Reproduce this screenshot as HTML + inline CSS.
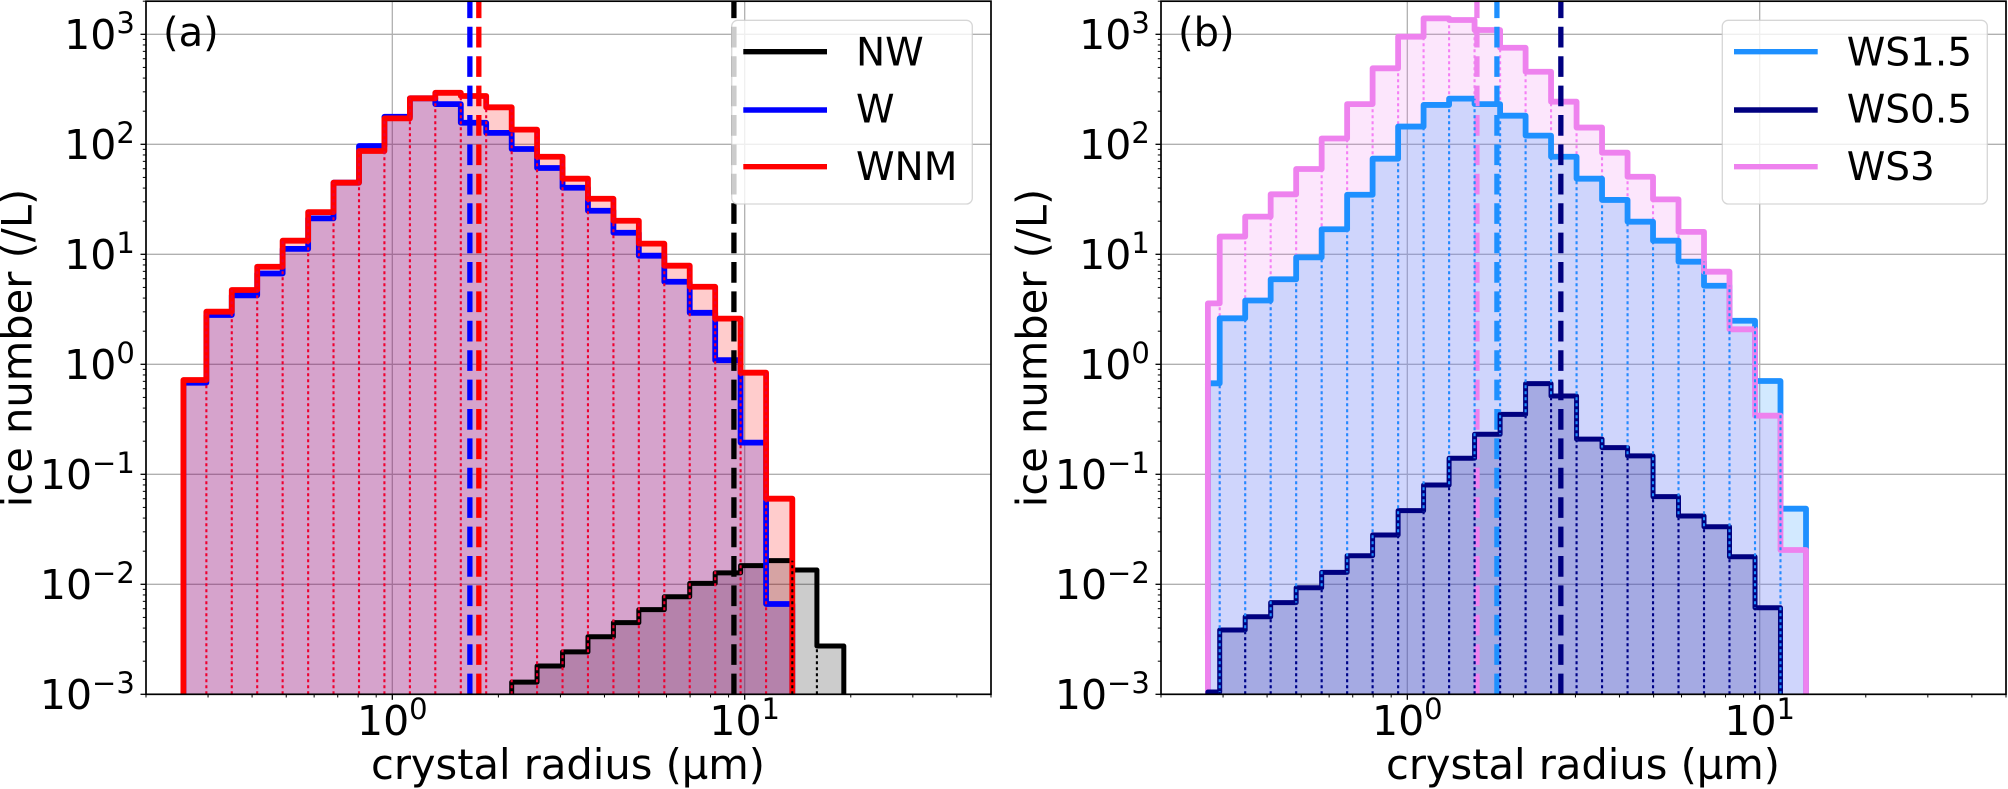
<!DOCTYPE html>
<html lang="en">
<head>
<meta charset="utf-8">
<title>Ice crystal radius histograms</title>
<style>
html,body{margin:0;padding:0;background:#fff;width:2008px;height:789px;overflow:hidden}
svg{display:block;font-family:"DejaVu Sans","Liberation Sans",sans-serif;fill:#000}
</style>
</head>
<body>
<svg id="chart" xmlns="http://www.w3.org/2000/svg" width="2008" height="789" viewBox="0 0 2008 789">
  <defs>
    <clipPath id="clip-a"><rect x="146" y="1.2" width="845" height="693.1"/></clipPath>
    <clipPath id="clip-b"><rect x="1161" y="1.2" width="845" height="693.1"/></clipPath>
  </defs>
  <g id="panel-a"></g>
  <g id="panel-b"></g>

  <text x="163" y="46" font-size="40">(a)</text>
  <text x="1178" y="46" font-size="40">(b)</text>

  <text x="568" y="779" font-size="41.6" text-anchor="middle">crystal radius (µm)</text>
  <text x="1583" y="779" font-size="41.6" text-anchor="middle">crystal radius (µm)</text>
  <text transform="translate(31.7 348) rotate(-90)" font-size="41.6" text-anchor="middle">ice number (/L)</text>
  <text transform="translate(1046.7 348) rotate(-90)" font-size="41.6" text-anchor="middle">ice number (/L)</text>

  <g>
    <rect x="731.7" y="20.3" width="240.6" height="183.7" rx="6" fill="#fff" fill-opacity="0.8" stroke="#ccc" stroke-opacity="0.8" stroke-width="1.3"/>
    <line x1="743.3" x2="827" y1="51.7" y2="51.7" stroke="#000" stroke-width="5.4"/>
    <text x="856" y="65.7" font-size="39">NW</text>
    <line x1="743.3" x2="827" y1="110" y2="110" stroke="#0000ff" stroke-width="5.4"/>
    <text x="856" y="122.7" font-size="39">W</text>
    <line x1="743.3" x2="827" y1="166.7" y2="166.7" stroke="#ff0000" stroke-width="5.4"/>
    <text x="856" y="180" font-size="39">WNM</text>
  </g>
  <g>
    <rect x="1722.3" y="20.3" width="265" height="183.7" rx="6" fill="#fff" fill-opacity="0.8" stroke="#ccc" stroke-opacity="0.8" stroke-width="1.3"/>
    <line x1="1734" x2="1817.7" y1="51.7" y2="51.7" stroke="#1e90ff" stroke-width="5.4"/>
    <text x="1846.7" y="65.7" font-size="39">WS1.5</text>
    <line x1="1734" x2="1817.7" y1="110" y2="110" stroke="#000080" stroke-width="5.4"/>
    <text x="1846.7" y="122.7" font-size="39">WS0.5</text>
    <line x1="1734" x2="1817.7" y1="166.7" y2="166.7" stroke="#ee82ee" stroke-width="5.4"/>
    <text x="1846.7" y="180" font-size="39">WS3</text>
  </g>
</svg>
<script>
/* ---- data ---- */
const edgesA = [0.2554,0.2967,0.3503,0.4136,0.4884,0.5770,0.6810,0.8045,0.9497,1.1218,1.3243,1.5646,1.8467,2.1816,2.5751,3.0415,3.5910,4.2414,5.0070,5.9143,6.9823,8.2469,9.7364,11.50,13.65,16.03,19.11];
const edgesB = [0.2717,0.2935,0.3467,0.4095,0.4837,0.5714,0.6749,0.7971,0.9417,1.1122,1.3140,1.5519,1.8337,2.1660,2.5580,3.0220,3.5695,4.2170,4.9810,5.8830,6.9500,8.2090,9.6990,11.455,13.535];

const nwFirstBin = 13;
const nwValues = [0.00129,0.00181,0.00243,0.00334,0.00448,0.00588,0.00771,0.0102,0.0127,0.0148,0.0164,0.0135,0.00275];
const wValues = [0.680,2.81,4.24,6.69,11.2,21.2,44.8,96.5,178,262,232,157,127,90.6,60.9,40.3,24.9,15.7,9.71,5.63,2.94,1.09,0.194,0.00662];
const wnmValues = [0.720,3.01,4.74,7.71,13.3,24.2,44.8,86.9,172,262,294,275,217,136,77.1,48.7,32.0,20.2,12.5,7.88,5.07,2.60,0.839,0.060];

const ws3Values = [3.58,14.5,22.0,35.1,59.6,113,232,491,951,1397,1349,1094,755,457,244,142,83.9,50.7,31.6,16.0,6.95,2.08,0.341,0.0205];
const ws15Values = [0.672,2.62,3.80,5.93,9.39,16.9,34.8,74.0,145,228,260,232,182,120,77.1,48.7,31.2,19.8,13.3,8.57,5.18,2.49,0.705,0.0487];
const ws05Values = [0.00105,0.00384,0.00507,0.00681,0.00931,0.01285,0.0182,0.0281,0.0467,0.080,0.140,0.231,0.351,0.667,0.515,0.209,0.175,0.147,0.0626,0.0418,0.0334,0.0178,0.00612];

const meansA = [9.32,1.66,1.76];
const meansB = [2.727,1.796,1.576];

const yTickExponents = [-3,-2,-1,0,1,2,3];
const xTickExponents = [0,1];
const minorMultipliers = [2,3,4,5,6,7,8,9];
const xLimits = [0.2,50];
const yLimits = [0.001,2000];

/* ---- helpers ---- */
const NS = 'http://www.w3.org/2000/svg';
const TOP = 1.2, BOTTOM = 694.3, WIDTH = 845;

function xScale(panel, v) {
  const lo = Math.log10(xLimits[0]), hi = Math.log10(xLimits[1]);
  return panel.left + (Math.log10(v) - lo) / (hi - lo) * WIDTH;
}
function yScale(v) {
  const lo = Math.log10(yLimits[0]), hi = Math.log10(yLimits[1]);
  return BOTTOM - (Math.log10(v) - lo) / (hi - lo) * (BOTTOM - TOP);
}
function make(tag, parent, attrs) {
  const e = document.createElementNS(NS, tag);
  for (const k in attrs) e.setAttribute(k, attrs[k]);
  parent.appendChild(e);
  return e;
}
function stepPath(panel, s) {
  const edges = panel.edges;
  let d = 'M' + xScale(panel, edges[s.first]).toFixed(2) + ' ' + BOTTOM;
  s.values.forEach(function (v, i) {
    const y = yScale(v).toFixed(2);
    d += 'L' + xScale(panel, edges[s.first + i]).toFixed(2) + ' ' + y;
    d += 'L' + xScale(panel, edges[s.first + i + 1]).toFixed(2) + ' ' + y;
  });
  d += 'L' + xScale(panel, edges[s.first + s.values.length]).toFixed(2) + ' ' + BOTTOM;
  return d;
}
function drawFill(panel, s) {
  const p = make('path', panel.plot, {d: stepPath(panel, s) + 'Z', fill: s.color, 'fill-opacity': 0.2, stroke: 'none'});
  
  
}
function drawStep(panel, s) {
  const p = make('path', panel.plot, {d: stepPath(panel, s), fill: 'none', stroke: s.color, 'stroke-width': s.width, 'stroke-linejoin': 'round'});
  
  
}
/* dotted bar edges; useMin limits each edge to the lower of its two neighbouring bars */
function drawDots(panel, s, color, fromEdge, toEdge, useMin) {
  for (let e = fromEdge; e <= toEdge; e++) {
    const left = s.values[e - 1 - s.first];
    const right = s.values[e - s.first];
    const known = [left, right].filter(function (v) { return v !== undefined; });
    if (!known.length) continue;
    if (useMin && known.length < 2) continue;
    const v = useMin ? Math.min.apply(null, known) : Math.max.apply(null, known);
    const x = xScale(panel, panel.edges[e]);
    const l = make('line', panel.plot, {x1: x, x2: x, y1: BOTTOM, y2: yScale(v), stroke: color, 'stroke-width': 2.1, 'stroke-dasharray': '3 3'});
    
    
  }
}
function drawMean(panel, value, color, name) {
  const x = xScale(panel, value);
  const l = make('line', panel.plot, {x1: x, x2: x, y1: BOTTOM, y2: TOP, stroke: color, 'stroke-width': 5.3, 'stroke-dasharray': '20.7 8.7'});
  
  
}
function drawGrid(panel) {
  yTickExponents.forEach(function (exp) {
    const y = yScale(Math.pow(10, exp));
    const l = make('line', panel.plot, {x1: panel.left, x2: panel.left + WIDTH, y1: y, y2: y, stroke: '#b0b0b0', 'stroke-width': 1.3});
    
    
  });
  xTickExponents.forEach(function (exp) {
    const x = xScale(panel, Math.pow(10, exp));
    const l = make('line', panel.plot, {x1: x, x2: x, y1: TOP, y2: BOTTOM, stroke: '#b0b0b0', 'stroke-width': 1.3});
    
    
  });
}
function tickLabel(parent, x, y, anchor, exp) {
  const t = make('text', parent, {x: x, y: y, 'text-anchor': anchor, 'font-size': 41});
  
  
  const base = make('tspan', t, {});
  base.textContent = '10';
  const sup = make('tspan', t, {dy: -16, 'font-size': 29});
  sup.textContent = String(exp).replace('-', '\u2212');
}
function drawAxes(panel) {
  const g = panel.root;
  const frame = make('rect', g, {x: panel.left, y: TOP, width: WIDTH, height: BOTTOM - TOP, fill: 'none', stroke: '#000', 'stroke-width': 1.7});
  
  

  yTickExponents.forEach(function (exp) {
    const y = yScale(Math.pow(10, exp));
    const t = make('line', g, {x1: panel.left - 5.5, x2: panel.left, y1: y, y2: y, stroke: '#000', 'stroke-width': 1.3});
    
    
    tickLabel(g, panel.left - 11.2, y + 14.7, 'end', exp);
    minorMultipliers.forEach(function (m) {
      const v = m * Math.pow(10, exp);
      if (v > yLimits[1]) return;
      const my = yScale(v);
      const mt = make('line', g, {x1: panel.left - 3.2, x2: panel.left, y1: my, y2: my, stroke: '#000', 'stroke-width': 1});
      
      
    });
  });
  [-1, 0, 1].forEach(function (exp) {
    minorMultipliers.concat([1]).forEach(function (m) {
      const v = m * Math.pow(10, exp);
      if (v < xLimits[0] || v > xLimits[1]) return;
      const x = xScale(panel, v);
      const major = m === 1;
      const mt = make('line', g, {x1: x, x2: x, y1: BOTTOM, y2: BOTTOM + (major ? 5.5 : 3.2), stroke: '#000', 'stroke-width': major ? 1.3 : 1});
      
      
    });
  });
  xTickExponents.forEach(function (exp) {
    tickLabel(g, xScale(panel, Math.pow(10, exp)), 735, 'middle', exp);
  });
}
function makePanel(id, left, edges, clip) {
  const root = document.getElementById(id);
  const plot = make('g', root, {'clip-path': 'url(#' + clip + ')'});
  
  
  return {root: root, plot: plot, left: left, edges: edges};
}

/* ---- panel (a) ---- */
const panelA = makePanel('panel-a', 146, edgesA, 'clip-a');
const nw = {name: 'nw', color: '#000000', values: nwValues, first: nwFirstBin, width: 5};
const w = {name: 'w', color: '#0000ff', values: wValues, first: 0, width: 5.8};
const wnm = {name: 'wnm', color: '#ff0000', values: wnmValues, first: 0, width: 5.8};
drawGrid(panelA);
[nw, w, wnm].forEach(function (s) { drawFill(panelA, s); });
[nw, w, wnm].forEach(function (s) { drawStep(panelA, s); });
drawMean(panelA, meansA[0], nw.color, nw.name);
drawMean(panelA, meansA[1], w.color, w.name);
drawMean(panelA, meansA[2], wnm.color, wnm.name);
drawDots(panelA, wnm, '#ee0030', 1, wnmValues.length - 1, false);
drawDots(panelA, nw, '#000000', wnmValues.length, nwFirstBin + nwValues.length - 1, false);
drawAxes(panelA);

/* ---- panel (b) ---- */
const panelB = makePanel('panel-b', 1161, edgesB, 'clip-b');
const ws3 = {name: 'ws3', color: '#ee82ee', values: ws3Values, first: 0, width: 5.8};
const ws15 = {name: 'ws1-5', color: '#1e90ff', values: ws15Values, first: 0, width: 5.8};
const ws05 = {name: 'ws0-5', color: '#000080', values: ws05Values, first: 0, width: 5};
drawGrid(panelB);
[ws3, ws15, ws05].forEach(function (s) { drawFill(panelB, s); });
drawDots(panelB, ws3, '#f57ff5', 1, ws3Values.length - 1, false);
drawStep(panelB, ws15);
drawStep(panelB, ws3);
drawMean(panelB, meansB[0], ws05.color, ws05.name);
drawMean(panelB, meansB[1], ws15.color, ws15.name);
drawMean(panelB, meansB[2], ws3.color, ws3.name);
drawStep(panelB, ws05);
drawDots(panelB, ws15, '#1e90ff', 1, ws15Values.length - 1, false);
drawDots(panelB, ws05, '#000080', 1, ws05Values.length - 1, true);
drawAxes(panelB);

/* keep titles and legends above the panels */
const svgRoot = document.getElementById('chart');
Array.from(svgRoot.children).forEach(function (c) {
  if (c.id !== 'panel-a' && c.id !== 'panel-b' && c.tagName !== 'defs') svgRoot.appendChild(c);
});
</script>
</body>
</html>
